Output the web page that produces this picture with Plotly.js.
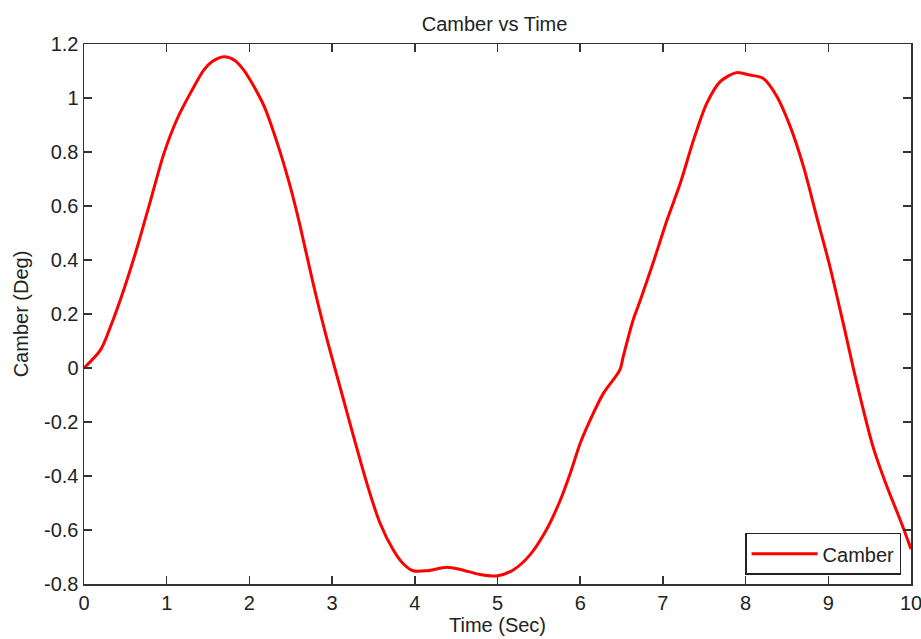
<!DOCTYPE html>
<html>
<head>
<meta charset="utf-8">
<script src="https://cdn.plot.ly/plotly-3.0.1.min.js"></script>
<style>html,body{margin:0;padding:0;background:#fff;}#chart{width:921px;height:639px;}</style>
</head>
<body>
<div id="chart"></div>
<script>
var timeSec = [0, 0.2, 0.32, 0.48, 0.645, 0.806, 0.967, 1.13, 1.29, 1.45, 1.55, 1.69, 1.82, 1.93, 2.05, 2.18, 2.34, 2.5, 2.61, 2.77, 2.93, 3.1, 3.26, 3.42, 3.58, 3.74, 3.86, 3.98, 4.14, 4.39, 4.55, 4.79, 4.99, 5.19, 5.39, 5.59, 5.76, 5.88, 6.0, 6.12, 6.28, 6.48, 6.52, 6.64, 6.72, 6.88, 7.05, 7.21, 7.37, 7.53, 7.69, 7.89, 8.05, 8.21, 8.38, 8.54, 8.7, 8.86, 9.02, 9.18, 9.34, 9.54, 9.71, 9.87, 10];
var camberDeg = [0, 0.067, 0.153, 0.289, 0.449, 0.622, 0.795, 0.925, 1.02, 1.104, 1.135, 1.153, 1.14, 1.104, 1.045, 0.968, 0.83, 0.665, 0.53, 0.314, 0.116, -0.075, -0.254, -0.427, -0.575, -0.674, -0.725, -0.751, -0.751, -0.738, -0.746, -0.765, -0.77, -0.748, -0.693, -0.6, -0.489, -0.39, -0.279, -0.193, -0.094, -0.007, 0.042, 0.178, 0.245, 0.388, 0.548, 0.684, 0.844, 0.98, 1.06, 1.094, 1.085, 1.073, 1.005, 0.894, 0.746, 0.56, 0.375, 0.166, -0.05, -0.291, -0.44, -0.563, -0.67];
var xTicks = [0,1,2,3,4,5,6,7,8,9,10];
var yTicks = [-0.8,-0.6,-0.4,-0.2,0,0.2,0.4,0.6,0.8,1,1.2];
var yTickLabels = ["-0.8","-0.6","-0.4","-0.2","0","0.2","0.4","0.6","0.8","1","1.2"];

var font = "Liberation Sans, Arial, sans-serif";
var trace = {
  x: timeSec, y: camberDeg, type: "scatter", mode: "lines", name: "Camber",
  line: {color: "#ff0000", width: 3, shape: "spline", smoothing: 0.8}
};
var axisCommon = {
  showgrid: false, zeroline: false, showline: true, linecolor: "#333333", linewidth: 1.5,
  mirror: "ticks", ticks: "inside", ticklen: 8, tickwidth: 1.5, tickcolor: "#333333",
  ticklabeloverflow: "allow",
  tickfont: {family: font, size: 20, color: "#222222"}
};
var layout = {
  width: 921, height: 639,
  margin: {l: 84, r: 10, t: 44, b: 55, pad: 0},
  paper_bgcolor: "#ffffff", plot_bgcolor: "#ffffff",
  title: {text: "Camber vs Time", font: {family: font, size: 20, color: "#222222"}, x: 0.537, xanchor: "center", y: 0.963, yanchor: "middle"},
  xaxis: Object.assign({}, axisCommon, {range: [0, 10], tickvals: xTicks, ticktext: xTicks.map(String),
    title: {text: "Time (Sec)", font: {family: font, size: 20, color: "#222222"}, standoff: 4}}),
  yaxis: Object.assign({}, axisCommon, {range: [-0.8, 1.2], tickvals: yTicks, ticktext: yTickLabels,
    title: {text: "Camber (Deg)", font: {family: font, size: 20, color: "#222222"}, standoff: 10}}),
  showlegend: true,
  legend: {x: 0.988, y: 0.017, xanchor: "right", yanchor: "bottom", bgcolor: "#ffffff", itemwidth: 66,
    bordercolor: "#222222", borderwidth: 1.5, font: {family: font, size: 20, color: "#222222"}}
};
Plotly.newPlot("chart", [trace], layout, {displayModeBar: false, staticPlot: true});
</script>
</body>
</html>
